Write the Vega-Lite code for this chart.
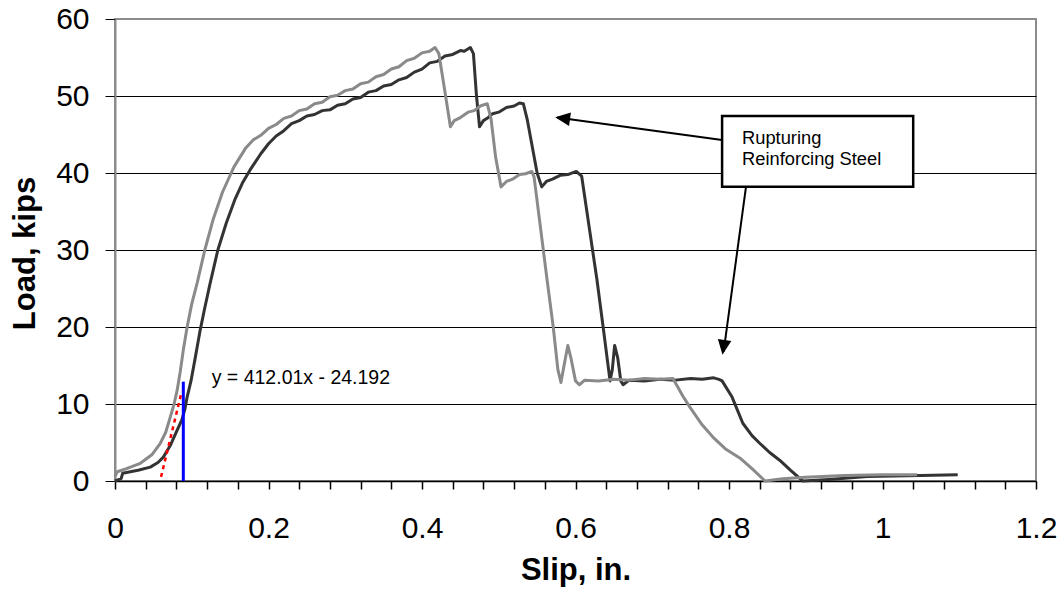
{
  "$schema": "https://vega.github.io/schema/vega-lite/v6.json",
  "width": 921,
  "height": 462,
  "autosize": {"type": "none"},
  "padding": {"left": 115, "top": 19, "right": 28, "bottom": 120},
  "background": "white",
  "config": {
    "font": "Liberation Sans",
    "view": {"stroke": "#8c8c8c", "strokeWidth": 2}
  },
  "resolve": {"axis": {"x": "independent"}},
  "datasets": {
    "dark": [
      {"slip": 0.000, "load": 0.0}, {"slip": 0.008, "load": 0.3}, {"slip": 0.010, "load": 1.0},
      {"slip": 0.030, "load": 1.4}, {"slip": 0.046, "load": 1.8}, {"slip": 0.056, "load": 2.4},
      {"slip": 0.063, "load": 3.1}, {"slip": 0.072, "load": 4.6}, {"slip": 0.081, "load": 6.6},
      {"slip": 0.087, "load": 7.9}, {"slip": 0.091, "load": 9.3}, {"slip": 0.094, "load": 10.9},
      {"slip": 0.099, "load": 13.0}, {"slip": 0.104, "load": 15.7}, {"slip": 0.111, "load": 19.6},
      {"slip": 0.117, "load": 22.5}, {"slip": 0.124, "load": 25.7}, {"slip": 0.134, "load": 30.0},
      {"slip": 0.145, "load": 33.5}, {"slip": 0.156, "load": 36.5}, {"slip": 0.166, "load": 38.7},
      {"slip": 0.176, "load": 40.4}, {"slip": 0.190, "load": 42.5}, {"slip": 0.200, "load": 43.8},
      {"slip": 0.210, "load": 44.8}, {"slip": 0.220, "load": 45.5}, {"slip": 0.230, "load": 46.4},
      {"slip": 0.240, "load": 46.8}, {"slip": 0.250, "load": 47.4}, {"slip": 0.260, "load": 47.6},
      {"slip": 0.270, "load": 48.1}, {"slip": 0.280, "load": 48.2}, {"slip": 0.290, "load": 48.8},
      {"slip": 0.300, "load": 49.0}, {"slip": 0.310, "load": 49.6}, {"slip": 0.320, "load": 49.8},
      {"slip": 0.330, "load": 50.5}, {"slip": 0.340, "load": 50.7}, {"slip": 0.350, "load": 51.3},
      {"slip": 0.360, "load": 51.5}, {"slip": 0.370, "load": 52.1}, {"slip": 0.380, "load": 52.4},
      {"slip": 0.390, "load": 53.1}, {"slip": 0.400, "load": 53.5}, {"slip": 0.410, "load": 54.3},
      {"slip": 0.420, "load": 54.5}, {"slip": 0.430, "load": 55.2}, {"slip": 0.440, "load": 55.4},
      {"slip": 0.450, "load": 55.9}, {"slip": 0.455, "load": 55.8}, {"slip": 0.463, "load": 56.3},
      {"slip": 0.467, "load": 55.5}, {"slip": 0.471, "load": 50.0}, {"slip": 0.475, "load": 46.0},
      {"slip": 0.480, "load": 46.8}, {"slip": 0.485, "load": 47.1}, {"slip": 0.492, "load": 47.7},
      {"slip": 0.500, "load": 47.9}, {"slip": 0.510, "load": 48.5}, {"slip": 0.520, "load": 48.7},
      {"slip": 0.527, "load": 49.1}, {"slip": 0.532, "load": 49.0}, {"slip": 0.537, "load": 47.0},
      {"slip": 0.550, "load": 40.0}, {"slip": 0.556, "load": 38.2}, {"slip": 0.562, "load": 38.9},
      {"slip": 0.570, "load": 39.2}, {"slip": 0.580, "load": 39.7}, {"slip": 0.590, "load": 39.8},
      {"slip": 0.601, "load": 40.2}, {"slip": 0.608, "load": 39.6}, {"slip": 0.628, "load": 26.1},
      {"slip": 0.636, "load": 20.0}, {"slip": 0.645, "load": 13.0}, {"slip": 0.648, "load": 14.5},
      {"slip": 0.651, "load": 17.6}, {"slip": 0.655, "load": 16.0}, {"slip": 0.659, "load": 13.0},
      {"slip": 0.662, "load": 12.5}, {"slip": 0.670, "load": 13.1}, {"slip": 0.690, "load": 13.0},
      {"slip": 0.710, "load": 13.2}, {"slip": 0.730, "load": 13.1}, {"slip": 0.750, "load": 13.3},
      {"slip": 0.765, "load": 13.2}, {"slip": 0.780, "load": 13.4}, {"slip": 0.787, "load": 13.2},
      {"slip": 0.791, "load": 13.0}, {"slip": 0.804, "load": 10.9},
      {"slip": 0.818, "load": 7.5}, {"slip": 0.830, "load": 5.9}, {"slip": 0.840, "load": 4.9},
      {"slip": 0.853, "load": 3.7}, {"slip": 0.866, "load": 2.7}, {"slip": 0.880, "load": 1.4},
      {"slip": 0.896, "load": 0.0}, {"slip": 0.930, "load": 0.2}, {"slip": 0.980, "load": 0.6},
      {"slip": 1.050, "load": 0.7}, {"slip": 1.098, "load": 0.8}
    ],
    "light": [
      {"slip": 0.000, "load": 0.6}, {"slip": 0.003, "load": 1.2}, {"slip": 0.015, "load": 1.6},
      {"slip": 0.033, "load": 2.3}, {"slip": 0.048, "load": 3.4}, {"slip": 0.059, "load": 4.9},
      {"slip": 0.066, "load": 6.3}, {"slip": 0.072, "load": 8.3}, {"slip": 0.077, "load": 10.0},
      {"slip": 0.081, "load": 11.8}, {"slip": 0.085, "load": 14.2}, {"slip": 0.089, "load": 17.0},
      {"slip": 0.094, "load": 20.0}, {"slip": 0.100, "load": 23.0}, {"slip": 0.107, "load": 25.7},
      {"slip": 0.117, "load": 30.0}, {"slip": 0.128, "load": 34.0}, {"slip": 0.140, "load": 37.5},
      {"slip": 0.155, "load": 40.8}, {"slip": 0.170, "load": 43.2}, {"slip": 0.180, "load": 44.3},
      {"slip": 0.190, "load": 44.9}, {"slip": 0.200, "load": 45.8}, {"slip": 0.210, "load": 46.3},
      {"slip": 0.220, "load": 47.1}, {"slip": 0.230, "load": 47.4}, {"slip": 0.240, "load": 48.1},
      {"slip": 0.250, "load": 48.3}, {"slip": 0.260, "load": 49.0}, {"slip": 0.270, "load": 49.2},
      {"slip": 0.280, "load": 49.9}, {"slip": 0.290, "load": 50.1}, {"slip": 0.300, "load": 50.7},
      {"slip": 0.310, "load": 50.9}, {"slip": 0.320, "load": 51.6}, {"slip": 0.330, "load": 51.8},
      {"slip": 0.340, "load": 52.5}, {"slip": 0.350, "load": 52.8}, {"slip": 0.360, "load": 53.5},
      {"slip": 0.370, "load": 53.8}, {"slip": 0.380, "load": 54.6}, {"slip": 0.390, "load": 54.9},
      {"slip": 0.400, "load": 55.6}, {"slip": 0.410, "load": 55.8}, {"slip": 0.417, "load": 56.3},
      {"slip": 0.422, "load": 55.5}, {"slip": 0.430, "load": 50.5}, {"slip": 0.437, "load": 46.0},
      {"slip": 0.442, "load": 46.8}, {"slip": 0.450, "load": 47.2}, {"slip": 0.460, "load": 47.9},
      {"slip": 0.468, "load": 48.1}, {"slip": 0.476, "load": 48.7}, {"slip": 0.485, "load": 49.0},
      {"slip": 0.490, "load": 47.0}, {"slip": 0.496, "load": 42.0}, {"slip": 0.503, "load": 38.2},
      {"slip": 0.510, "load": 38.9}, {"slip": 0.518, "load": 39.2}, {"slip": 0.527, "load": 39.8},
      {"slip": 0.535, "load": 39.9}, {"slip": 0.543, "load": 40.2}, {"slip": 0.546, "load": 39.5},
      {"slip": 0.563, "load": 26.1}, {"slip": 0.571, "load": 20.0}, {"slip": 0.577, "load": 14.5},
      {"slip": 0.581, "load": 12.8}, {"slip": 0.586, "load": 15.5}, {"slip": 0.590, "load": 17.6},
      {"slip": 0.594, "load": 16.0}, {"slip": 0.600, "load": 13.0}, {"slip": 0.605, "load": 12.5},
      {"slip": 0.612, "load": 13.1}, {"slip": 0.630, "load": 13.0}, {"slip": 0.650, "load": 13.2},
      {"slip": 0.670, "load": 13.1}, {"slip": 0.690, "load": 13.3}, {"slip": 0.710, "load": 13.2},
      {"slip": 0.727, "load": 13.3}, {"slip": 0.740, "load": 11.0}, {"slip": 0.749, "load": 9.6},
      {"slip": 0.765, "load": 7.3}, {"slip": 0.779, "load": 5.7}, {"slip": 0.795, "load": 4.2},
      {"slip": 0.814, "load": 3.0}, {"slip": 0.830, "load": 1.6}, {"slip": 0.847, "load": 0.0},
      {"slip": 0.870, "load": 0.3}, {"slip": 0.900, "load": 0.5}, {"slip": 0.950, "load": 0.7},
      {"slip": 1.000, "load": 0.8}, {"slip": 1.045, "load": 0.8}
    ],
    "trend": [
      {"slip": 0.060, "load": 0.53},
      {"slip": 0.087, "load": 11.65}
    ],
    "offset": [
      {"slip": 0.089, "load": 0, "top": 12.9}
    ],
    "equation": [
      {"slip": 0.126, "load": 13.4, "label": "y = 412.01x - 24.192"}
    ],
    "arrows": [
      {"slip": 0.791, "load": 44.3, "slip2": 0.576, "load2": 47.2},
      {"slip": 0.822, "load": 38.1, "slip2": 0.793, "load2": 16.8}
    ],
    "tips": [
      {"slip": 0.5735, "load": 47.25, "arrow": "left"},
      {"slip": 0.7915, "load": 16.4, "arrow": "down"}
    ],
    "box": [
      {"slip": 0.791, "load": 47.4, "slip2": 1.040, "load2": 38.2}
    ],
    "note": [
      {"slip": 0.817, "load": 44.4, "label": "Rupturing"},
      {"slip": 0.817, "load": 41.7, "label": "Reinforcing Steel"}
    ]
  },
  "layer": [
    {
      "data": {"name": "dark"},
      "mark": {"type": "line", "color": "#333333", "strokeWidth": 3, "strokeJoin": "round"},
      "encoding": {
        "x": {
          "field": "slip", "type": "quantitative",
          "scale": {"domain": [0, 1.2], "nice": false, "zero": true},
          "axis": {
            "orient": "bottom",
            "title": "Slip, in.",
            "values": [0, 0.2, 0.4, 0.6, 0.8, 1, 1.2],
            "format": "~g",
            "labelOverlap": false,
            "labelFlush": false,
            "labelBound": false,
            "labelFont": "Liberation Sans",
            "labelFontSize": 30,
            "labelColor": "black",
            "labelPadding": 24,
            "tickSize": 8,
            "tickColor": "black",
            "tickWidth": 1.5,
            "domainColor": "black",
            "domainWidth": 1.5,
            "grid": false,
            "titleFont": "Liberation Sans",
            "titleFontSize": 31,
            "titleFontWeight": "bold",
            "titleColor": "black",
            "titleBaseline": "alphabetic",
            "titleY": 98
          }
        },
        "y": {
          "field": "load", "type": "quantitative",
          "scale": {"domain": [0, 60], "nice": false},
          "axis": {
            "title": "Load, kips",
            "values": [0, 10, 20, 30, 40, 50, 60],
            "labelFont": "Liberation Sans",
            "labelFontSize": 30,
            "labelColor": "black",
            "labelPadding": 16,
            "tickSize": 10,
            "tickColor": "black",
            "tickWidth": 1,
            "domainColor": "#8c8c8c",
            "domainWidth": 2,
            "grid": true,
            "gridColor": {"condition": {"test": "datum.value == 0 || datum.value == 60", "value": "transparent"}, "value": "black"},
            "gridWidth": 1,
            "gridOpacity": 1,
            "titleFont": "Liberation Sans",
            "titleFontSize": 31,
            "titleFontWeight": "bold",
            "titleColor": "black",
            "titleAngle": -90,
            "titleBaseline": "alphabetic",
            "titleX": -81,
            "titleY": 234
          }
        }
      }
    },
    {
      "data": {"name": "light"},
      "mark": {"type": "line", "color": "#8a8a8a", "strokeWidth": 3, "strokeJoin": "round"},
      "encoding": {
        "x": {
          "field": "slip", "type": "quantitative",
          "axis": {
            "orient": "bottom",
            "title": null,
            "values": [0.04, 0.08, 0.12, 0.16, 0.24, 0.28, 0.32, 0.36, 0.44, 0.48, 0.52, 0.56, 0.64, 0.68, 0.72, 0.76, 0.84, 0.88, 0.92, 0.96, 1.04, 1.08, 1.12, 1.16],
            "labels": false,
            "domain": false,
            "grid": false,
            "tickSize": 8,
            "tickColor": "black",
            "tickWidth": 1.5
          }
        },
        "y": {"field": "load", "type": "quantitative"}
      }
    },
    {
      "data": {"name": "offset"},
      "mark": {"type": "rule", "color": "#0000ff", "strokeWidth": 3},
      "encoding": {
        "x": {"field": "slip", "type": "quantitative", "axis": null},
        "y": {"field": "load", "type": "quantitative"},
        "y2": {"field": "top"}
      }
    },
    {
      "data": {"name": "trend"},
      "mark": {"type": "line", "color": "#ff0000", "strokeWidth": 2.5, "strokeDash": [4, 4]},
      "encoding": {
        "x": {"field": "slip", "type": "quantitative", "axis": null},
        "y": {"field": "load", "type": "quantitative"}
      }
    },
    {
      "data": {"name": "equation"},
      "mark": {"type": "text", "align": "left", "baseline": "middle", "font": "Liberation Sans", "fontSize": 19.5, "color": "black"},
      "encoding": {
        "x": {"field": "slip", "type": "quantitative", "axis": null},
        "y": {"field": "load", "type": "quantitative"},
        "text": {"field": "label"}
      }
    },
    {
      "data": {"name": "arrows"},
      "mark": {"type": "rule", "color": "black", "strokeWidth": 2},
      "encoding": {
        "x": {"field": "slip", "type": "quantitative", "axis": null},
        "y": {"field": "load", "type": "quantitative"},
        "x2": {"field": "slip2"},
        "y2": {"field": "load2"}
      }
    },
    {
      "data": {"name": "tips"},
      "transform": [{"filter": "datum.arrow == 'left'"}],
      "mark": {"type": "point", "shape": "M0,0L-0.5,1.1L0.5,1.1Z", "filled": true, "color": "black", "opacity": 1, "size": 740, "angle": 277.8, "strokeWidth": 0},
      "encoding": {
        "x": {"field": "slip", "type": "quantitative", "axis": null},
        "y": {"field": "load", "type": "quantitative"}
      }
    },
    {
      "data": {"name": "tips"},
      "transform": [{"filter": "datum.arrow == 'down'"}],
      "mark": {"type": "point", "shape": "M0,0L-0.5,1.1L0.5,1.1Z", "filled": true, "color": "black", "opacity": 1, "size": 740, "angle": 188.2, "strokeWidth": 0},
      "encoding": {
        "x": {"field": "slip", "type": "quantitative", "axis": null},
        "y": {"field": "load", "type": "quantitative"}
      }
    },
    {
      "data": {"name": "box"},
      "mark": {"type": "rect", "fill": "white", "stroke": "black", "strokeWidth": 2.5},
      "encoding": {
        "x": {"field": "slip", "type": "quantitative", "axis": null},
        "y": {"field": "load", "type": "quantitative"},
        "x2": {"field": "slip2"},
        "y2": {"field": "load2"}
      }
    },
    {
      "data": {"name": "note"},
      "mark": {"type": "text", "align": "left", "baseline": "middle", "font": "Liberation Sans", "fontSize": 18.3, "color": "black"},
      "encoding": {
        "x": {"field": "slip", "type": "quantitative", "axis": null},
        "y": {"field": "load", "type": "quantitative"},
        "text": {"field": "label"}
      }
    }
  ]
}
